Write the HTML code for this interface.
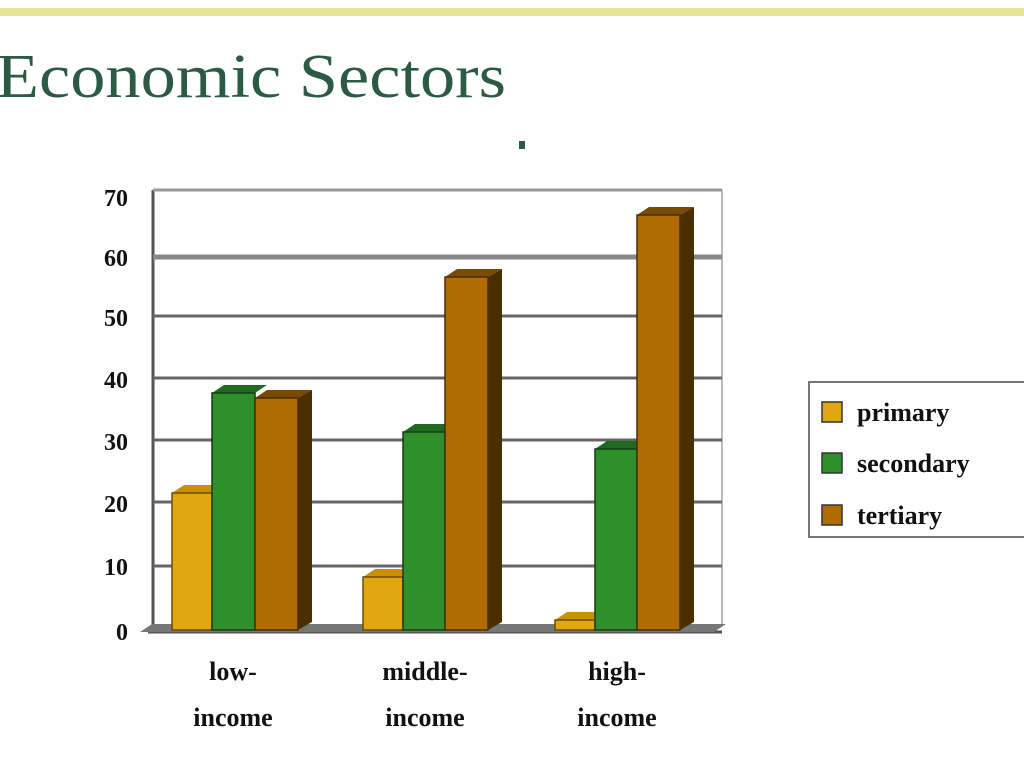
<!DOCTYPE html>
<html><head><style>body{margin:0;background:#fff}svg{display:block}</style></head><body>
<svg width="1024" height="768" viewBox="0 0 1024 768" xmlns="http://www.w3.org/2000/svg">
<rect width="1024" height="768" fill="#fff"/>
<rect x="0" y="8" width="1024" height="8" fill="#e6e496"/>
<text x="-4" y="97" font-family="Liberation Serif, serif" font-size="62" fill="#2d5a45" textLength="510" lengthAdjust="spacingAndGlyphs">Economic Sectors</text>
<rect x="519" y="141" width="6" height="8" fill="#2d5a45"/>
<g stroke="#555" stroke-width="3">
<line x1="153" y1="190" x2="153" y2="625"/>
<line x1="148" y1="632" x2="722" y2="632"/>
<line x1="722" y1="190" x2="722" y2="625" stroke="#bbb" stroke-width="2"/>
<line x1="153" y1="190" x2="722" y2="190" stroke="#999"/>
</g>
<g stroke="#666" stroke-width="3">
<line x1="153" y1="257" x2="722" y2="257" stroke="#888" stroke-width="5"/>
<line x1="153" y1="316" x2="722" y2="316"/>
<line x1="153" y1="378" x2="722" y2="378"/>
<line x1="153" y1="440" x2="722" y2="440"/>
<line x1="153" y1="502" x2="722" y2="502"/>
<line x1="153" y1="566" x2="722" y2="566"/>
</g>
<polygon points="140,632 152,624 726,624 714,632" fill="#777"/>
<g font-family="Liberation Serif, serif" font-weight="bold" font-size="24" fill="#111" text-anchor="end">
<text x="128" y="206">70</text><text x="128" y="266">60</text><text x="128" y="326">50</text>
<text x="128" y="388">40</text><text x="128" y="450">30</text><text x="128" y="512">20</text>
<text x="128" y="575">10</text><text x="128" y="640">0</text>
</g>
<g id="bars">
<!-- low -->
<polygon points="172,493 184,485 224,485 212,493" fill="#c99000"/><rect x="172" y="493" width="40" height="137" fill="#e0a810" stroke="#6b4a00" stroke-width="1.5"/>
<polygon points="212,393 224,385 267,385 255,393" fill="#1f6a1f"/><rect x="212" y="393" width="43" height="237" fill="#2f8f2a" stroke="#143d14" stroke-width="1.5"/>
<polygon points="255,398 267,390 312,390 298,398" fill="#7a4a00"/><rect x="255" y="398" width="43" height="232" fill="#b06c00" stroke="#4a2c00" stroke-width="1.5"/><polygon points="298,398 312,390 312,622 298,630" fill="#4a2e00"/>
<!-- middle -->
<polygon points="363,577 375,569 415,569 403,577" fill="#c99000"/><rect x="363" y="577" width="40" height="53" fill="#e0a810" stroke="#6b4a00" stroke-width="1.5"/>
<polygon points="403,432 415,424 457,424 445,432" fill="#1f6a1f"/><rect x="403" y="432" width="42" height="198" fill="#2f8f2a" stroke="#143d14" stroke-width="1.5"/>
<polygon points="445,277 457,269 502,269 488,277" fill="#7a4a00"/><rect x="445" y="277" width="43" height="353" fill="#b06c00" stroke="#4a2c00" stroke-width="1.5"/><polygon points="488,277 502,269 502,622 488,630" fill="#4a2e00"/>
<!-- high -->
<polygon points="555,620 567,612 607,612 595,620" fill="#c99000"/><rect x="555" y="620" width="40" height="10" fill="#e0a810" stroke="#6b4a00" stroke-width="1.5"/>
<polygon points="595,449 607,441 649,441 637,449" fill="#1f6a1f"/><rect x="595" y="449" width="42" height="181" fill="#2f8f2a" stroke="#143d14" stroke-width="1.5"/>
<polygon points="637,215 649,207 694,207 680,215" fill="#7a4a00"/><rect x="637" y="215" width="43" height="415" fill="#b06c00" stroke="#4a2c00" stroke-width="1.5"/><polygon points="680,215 694,207 694,622 680,630" fill="#4a2e00"/>
</g>
<g font-family="Liberation Serif, serif" font-weight="bold" font-size="26" fill="#111" text-anchor="middle">
<text x="233" y="680">low-</text><text x="233" y="726">income</text>
<text x="425" y="680">middle-</text><text x="425" y="726">income</text>
<text x="617" y="680">high-</text><text x="617" y="726">income</text>
</g>
<rect x="809" y="382" width="230" height="155" fill="#fff" stroke="#777" stroke-width="2"/>
<rect x="822" y="402" width="20" height="20" fill="#e0a810" stroke="#333" stroke-width="1.5"/>
<rect x="822" y="453" width="20" height="20" fill="#2f8f2a" stroke="#333" stroke-width="1.5"/>
<rect x="822" y="505" width="20" height="20" fill="#b06c00" stroke="#333" stroke-width="1.5"/>
<g font-family="Liberation Serif, serif" font-weight="bold" font-size="26" fill="#111">
<text x="857" y="421">primary</text><text x="857" y="472">secondary</text><text x="857" y="524">tertiary</text>
</g>
</svg>
</body></html>
